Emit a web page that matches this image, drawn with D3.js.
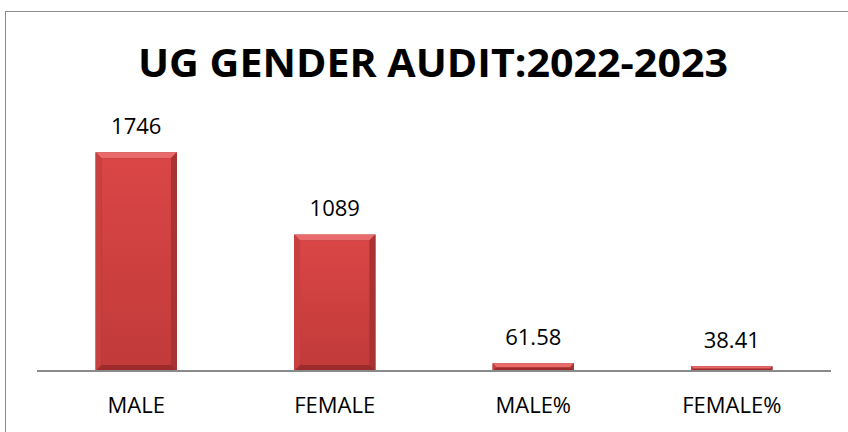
<!DOCTYPE html>
<html>
<head>
<meta charset="utf-8">
<script src="https://cdn.jsdelivr.net/npm/d3@7"></script>
<style>
  body { margin: 0; background: #fff; }
  text { font-family: "Open Sans", sans-serif; fill: #000; }
</style>
</head>
<body>
<svg id="chart"></svg>
<script>
const categories = ["MALE", "FEMALE", "MALE%", "FEMALE%"];
const values = [1746, 1089, 61.58, 38.41];
const labels = ["1746", "1089", "61.58", "38.41"];
const title = "UG GENDER AUDIT:2022-2023";

const width = 848;
const height = 432;

const svg = d3.select("#chart").attr("width", width).attr("height", height);

// outer chart border (runs off the right/bottom of the picture)
svg.append("rect")
  .attr("x", 5.5).attr("y", 11.5)
  .attr("width", 900).attr("height", 500)
  .attr("fill", "none")
  .attr("stroke", "#8c8c8c")
  .attr("stroke-width", 1);

const plotLeft = 37, plotRight = 831, baseY = 371;

const x = d3.scaleBand()
  .domain(categories)
  .range([plotLeft, plotRight])
  .paddingInner(0.59)
  .paddingOuter(0.295);

const y = d3.scaleLinear()
  .domain([0, 1746])
  .range([baseY, 152.3]);

const defs = svg.append("defs");
const grad = defs.append("linearGradient")
  .attr("id", "face").attr("x1", 0).attr("y1", 0).attr("x2", 0).attr("y2", 1);
grad.append("stop").attr("offset", "0%").attr("stop-color", "#da4646");
grad.append("stop").attr("offset", "100%").attr("stop-color", "#c23a3a");

const bars = svg.selectAll(".bar")
  .data(values)
  .enter()
  .append("g")
  .attr("class", "bar");

// dark rim
bars.append("rect")
  .attr("x", (d, i) => x(categories[i]))
  .attr("y", (d) => y(d))
  .attr("width", x.bandwidth())
  .attr("height", (d) => baseY - y(d))
  .attr("fill", "#9e2b2b");

// bevel highlights
bars.append("path")
  .attr("d", (d, i) => {
    const x0 = x(categories[i]), x1 = x0 + x.bandwidth();
    const y0 = y(d), y1 = baseY;
    const b = Math.min(6, (y1 - y0) / 2);
    return `M${x0},${y0}L${x1},${y0}L${x1 - b},${y0 + b}L${x0 + b},${y0 + b}Z`;
  })
  .attr("fill", "#e96a6a");

bars.append("path")
  .attr("d", (d, i) => {
    const x0 = x(categories[i]), x1 = x0 + x.bandwidth();
    const y0 = y(d), y1 = baseY;
    const b = Math.min(6, (y1 - y0) / 2);
    return `M${x0},${y0}L${x0 + b},${y0 + b}L${x0 + b},${y1 - b}L${x0},${y1}Z`;
  })
  .attr("fill", "#c94040");

bars.append("path")
  .attr("d", (d, i) => {
    const x0 = x(categories[i]), x1 = x0 + x.bandwidth();
    const y0 = y(d), y1 = baseY;
    const b = Math.min(6, (y1 - y0) / 2);
    return `M${x1},${y0}L${x1 - b},${y0 + b}L${x1 - b},${y1 - b}L${x1},${y1}Z`;
  })
  .attr("fill", "#a93232");

// face
bars.append("rect")
  .attr("x", (d, i) => x(categories[i]) + Math.min(6, (baseY - y(d)) / 2))
  .attr("y", (d) => y(d) + Math.min(6, (baseY - y(d)) / 2))
  .attr("width", (d) => x.bandwidth() - 2 * Math.min(6, (baseY - y(d)) / 2))
  .attr("height", (d) => Math.max(0, baseY - y(d) - 2 * Math.min(6, (baseY - y(d)) / 2)))
  .attr("fill", "url(#face)");

// axis line
svg.append("line")
  .attr("x1", plotLeft).attr("x2", plotRight)
  .attr("y1", baseY).attr("y2", baseY)
  .attr("stroke", "#8a8a8a")
  .attr("stroke-width", 2);

// value labels
svg.selectAll(".valueLabel")
  .data(values)
  .enter()
  .append("text")
  .attr("class", "valueLabel")
  .attr("x", (d, i) => x(categories[i]) + x.bandwidth() / 2)
  .attr("y", (d) => y(d) - 18.5)
  .attr("text-anchor", "middle")
  .style("font-size", "22px")
  .text((d, i) => labels[i]);

// category labels
svg.selectAll(".catLabel")
  .data(categories)
  .enter()
  .append("text")
  .attr("class", "catLabel")
  .attr("x", (d) => x(d) + x.bandwidth() / 2)
  .attr("y", 413)
  .attr("text-anchor", "middle")
  .style("font-size", "22px")
  .text((d) => d);

// title
svg.append("text")
  .attr("x", 433)
  .attr("y", 77)
  .attr("text-anchor", "middle")
  .attr("textLength", 590)
  .attr("lengthAdjust", "spacingAndGlyphs")
  .style("font-size", "40px")
  .style("font-weight", "bold")
  .text(title);
</script>
</body>
</html>
